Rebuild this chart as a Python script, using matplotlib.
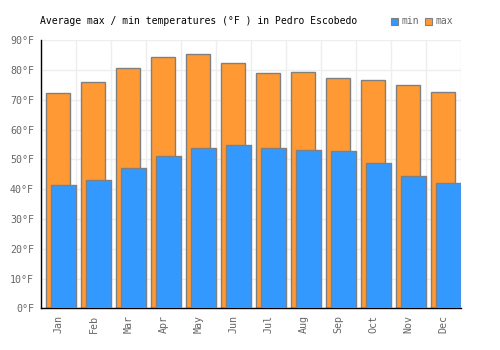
import numpy as np
import matplotlib
matplotlib.use("Agg")
import matplotlib.pyplot as plt
from matplotlib.patches import Rectangle

months = ["Jan", "Feb", "Mar", "Apr", "May", "Jun", "Jul", "Aug", "Sep", "Oct", "Nov", "Dec"]
max_temps = [72.2, 75.9, 80.6, 84.3, 85.3, 82.3, 78.9, 79.2, 77.2, 76.6, 74.9, 72.5]
min_temps = [41.3, 43.0, 47.0, 51.0, 53.7, 54.7, 53.7, 53.1, 52.7, 48.7, 44.3, 42.0]
yticks = [0, 10, 20, 30, 40, 50, 60, 70, 80, 90]
title = "Average max / min temperatures (°F ) in Pedro Escobedo"

plt.rcParams['font.family'] = ['DejaVu Sans Mono']

fig = plt.figure(figsize=(5, 3.5), dpi=100)
ax = fig.add_axes([41/500, (350-308.3)/350, 420/500, 268/350])

x = np.arange(len(months))
ax.bar(x - 0.02, max_temps, width=0.68, color="#ff9933", edgecolor="#808080", linewidth=1, zorder=2)
ax.bar(x + 0.14, min_temps, width=0.70, color="#3399ff", edgecolor="#808080", linewidth=1, zorder=3)

ax.set_xlim(-0.5, 11.5)
ax.set_ylim(0, 90)
ax.set_yticks(yticks)
ax.set_yticklabels([f"{t}°F" for t in yticks])
ax.set_xticks(x)
ax.set_xticklabels(months, rotation=90)
ax.set_xticks(np.arange(-0.5, 12, 1), minor=True)
ax.grid(True, which="minor", axis="x", color="#eeeeee", linewidth=1, zorder=0)
ax.grid(True, which="major", axis="y", color="#eeeeee", linewidth=1, zorder=0)
ax.tick_params(axis="both", which="both", length=0, labelsize=7.2, colors="#666666", pad=5)
for s in ["top", "right"]:
    ax.spines[s].set_visible(False)
for s in ["left", "bottom"]:
    ax.spines[s].set_color("black")
    ax.spines[s].set_linewidth(1)

fig.text(40/500, 1 - 21/350, title, fontsize=7, color="black", va="center", ha="left")
# legend
for lx, lab, col in [(391, "min", "#3399ff"), (425, "max", "#ff9933")]:
    fig.patches.append(Rectangle((lx/500, 1 - 24.7/350), 7/500, 7/350, transform=fig.transFigure,
                                 facecolor=col, edgecolor="#808080", linewidth=0.8))
    fig.text((lx + 10)/500, 1 - 21/350, lab, fontsize=7, color="#666666", va="center", ha="left")

fig.savefig("out.png", dpi=100)
